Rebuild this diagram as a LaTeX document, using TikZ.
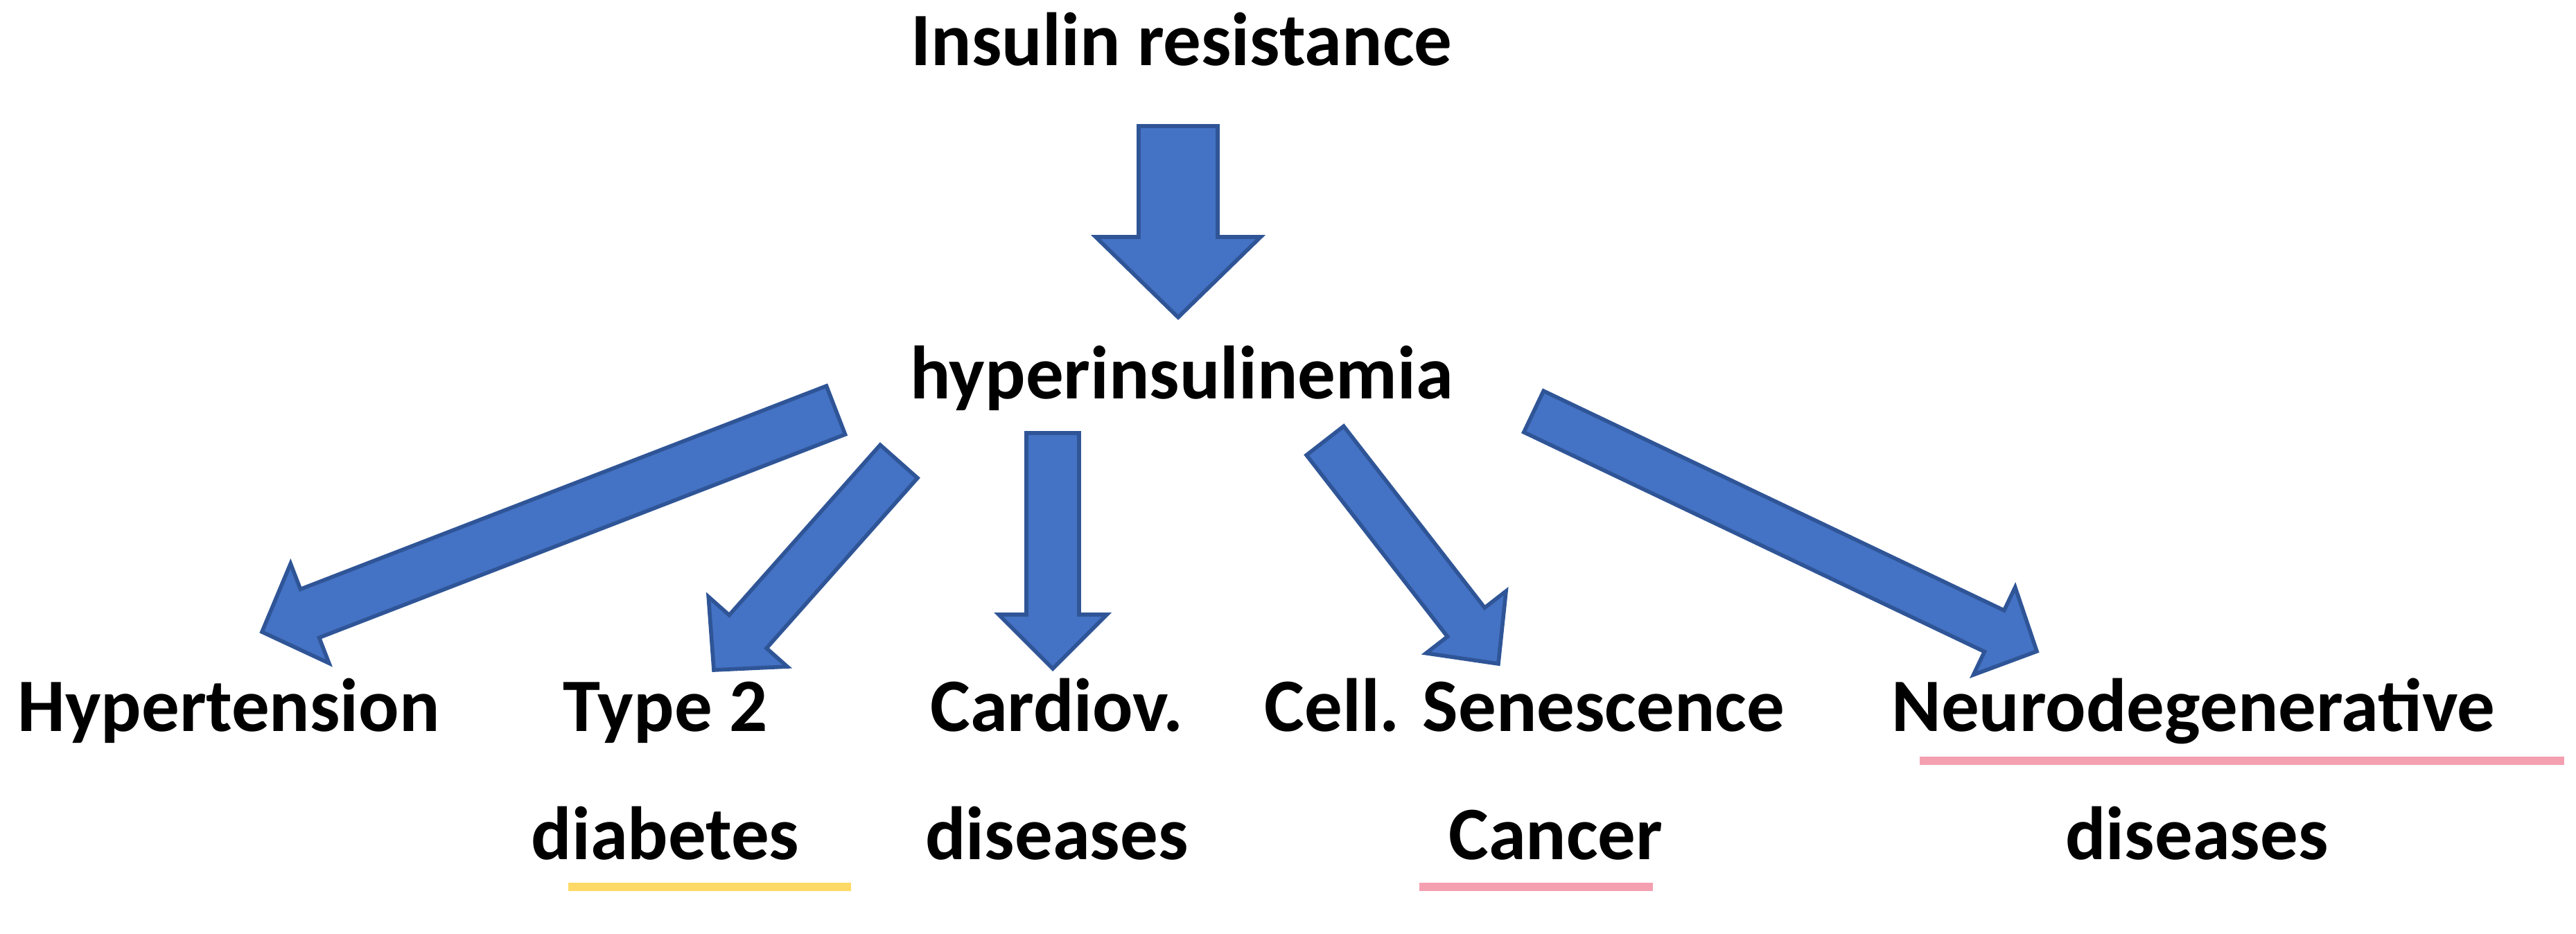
\documentclass[tikz,border=0pt]{standalone}
\usepackage{fontspec}
\setmainfont{Carlito}
\usetikzlibrary{calc}
\definecolor{afill}{HTML}{4472C4}
\definecolor{aedge}{HTML}{2F5597}
\definecolor{uyel}{HTML}{FFD966}
\definecolor{upink}{HTML}{F4A0B0}
\tikzset{
  lbl/.style={font=\fontsize{31}{36}\selectfont\bfseries, anchor=base, inner sep=0pt},
  blockarr/.style={fill=afill, draw=aedge, line width=1.6pt, line join=miter},
  uline/.style={line width=0.12cm}
}
\newcommand\barrow[5]{%
  \coordinate (bb) at ($(#2)!#5!(#1)$);
  \draw[blockarr] ($(#1)!#3!90:(#2)$) -- ($(bb)!#3!-90:(#1)$) -- ($(bb)!#4!-90:(#1)$) -- (#2)
    -- ($(bb)!#4!90:(#1)$) -- ($(bb)!#3!90:(#1)$) -- ($(#1)!#3!-90:(#2)$) -- cycle;}
\begin{document}
\begin{tikzpicture}
\useasboundingbox (0,0) rectangle (37.17,-13.48);
\node[lbl] (ir) at (17.05,-0.95) {Insulin resistance};
\node[lbl] (hy) at (17.05,-5.75) {hyperinsulinemia};
\node[lbl] (ht) at (3.30,-10.55) {Hypertension};
\node[lbl] (t2) at (9.60,-10.55) {Type 2};
\node[lbl] (cv) at (15.25,-10.55) {Cardiov.};
\node[lbl] (cs) at (22.00,-10.55) {Cell. Senescence};
\node[lbl] (nd) at (31.65,-10.55) {Neurodegenerative};
\node[lbl] (db) at (9.60,-12.40) {diabetes};
\node[lbl] (d1) at (15.25,-12.40) {diseases};
\node[lbl] (ca) at (22.45,-12.40) {Cancer};
\node[lbl] (d2) at (31.70,-12.40) {diseases};
% underlines
\draw[uline, uyel] (8.20,-12.80) -- (12.28,-12.80);
\draw[uline, upink] (20.48,-12.80) -- (23.85,-12.80);
\draw[uline, upink] (27.70,-10.98) -- (37.00,-10.98);
% arrows
\coordinate (a0t) at (17.00,-1.82); \coordinate (a0p) at (17.00,-4.58);
\barrow{a0t}{a0p}{0.57cm}{1.19cm}{1.16cm}
\coordinate (a1t) at (12.06,-5.92); \coordinate (a1p) at (3.78,-9.12);
\barrow{a1t}{a1p}{0.375cm}{0.77cm}{0.74cm}
\coordinate (a2t) at (12.97,-6.66); \coordinate (a2p) at (10.30,-9.67);
\barrow{a2t}{a2p}{0.36cm}{0.76cm}{0.74cm}
\coordinate (a3t) at (15.19,-6.25); \coordinate (a3p) at (15.19,-9.65);
\barrow{a3t}{a3p}{0.38cm}{0.78cm}{0.78cm}
\coordinate (a4t) at (19.12,-6.36); \coordinate (a4p) at (21.62,-9.58);
\barrow{a4t}{a4p}{0.34cm}{0.73cm}{0.76cm}
\coordinate (a5t) at (22.13,-5.94); \coordinate (a5p) at (29.39,-9.40);
\barrow{a5t}{a5p}{0.33cm}{0.70cm}{0.68cm}
\end{tikzpicture}
\end{document}
